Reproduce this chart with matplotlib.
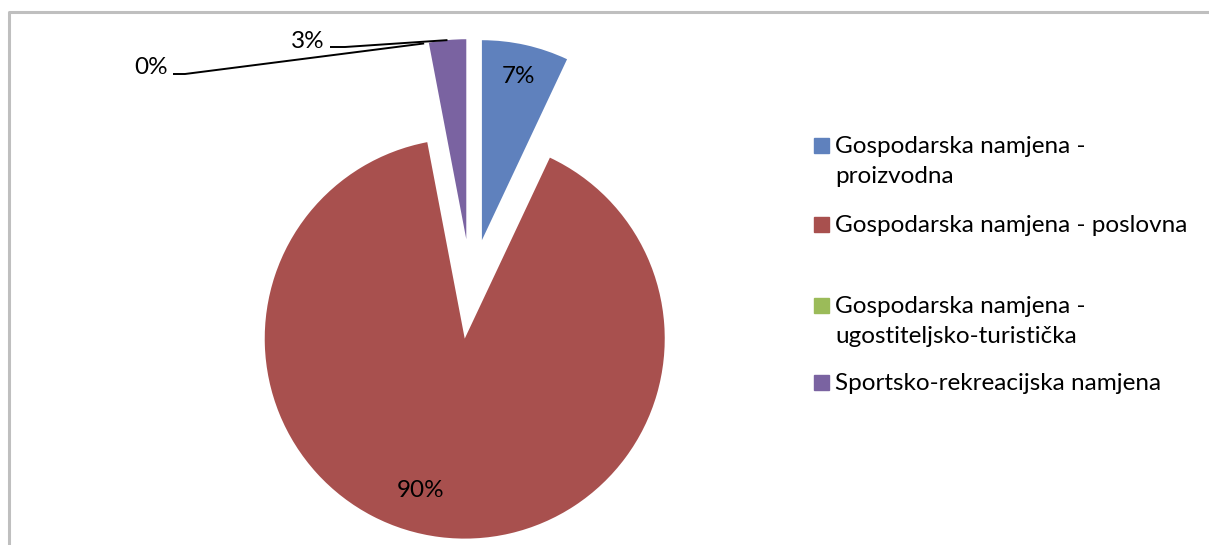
import numpy as np
import matplotlib
matplotlib.use('Agg')
import matplotlib.pyplot as plt
from matplotlib.patches import Rectangle

# data
categories = ['Gospodarska namjena -\nproizvodna',
              'Gospodarska namjena - poslovna',
              'Gospodarska namjena -\nugostiteljsko-turistička',
              'Sportsko-rekreacijska namjena']
values = [7, 90, 0, 3]
pct_labels = ['7%', '90%', '0%', '3%']
colors = ['#5F81BD', '#A8504E', '#9BBB59', '#7A63A1']

plt.rcParams['font.family'] = ['Lato', 'DejaVu Sans']
FS = 17.5

W, H = 1209, 545
fig = plt.figure(figsize=(W / 100, H / 100), dpi=100)
ax = fig.add_axes([0, 0, 1, 1])

cx, cy, r = 471, H - 289, 200
wedges, _ = ax.pie(values, colors=colors, startangle=90, counterclock=False,
                   explode=[0.25 * r] * len(values), radius=r, center=(cx, cy),
                   frame=True, wedgeprops=dict(linewidth=0))
ax.set_xlim(0, W)
ax.set_ylim(0, H)
ax.set_aspect('auto')
ax.axis('off')


def tip(w, frac=1.0, shift=0.0):
    # point on the wedge's mid-angle, measured from its exploded centre
    ang = np.deg2rad((w.theta1 + w.theta2) / 2 + shift)
    x0, y0 = w.center
    return x0 + frac * w.r * np.cos(ang), y0 + frac * w.r * np.sin(ang)


# inside labels
x, y = tip(wedges[0], 0.84)
ax.text(x, y, pct_labels[0], fontsize=FS, ha='center', va='center')
x, y = tip(wedges[1], 0.79, shift=-9)
ax.text(x, y, pct_labels[1], fontsize=FS, ha='center', va='center')

# outside labels with leader lines
for i, (lx, ly, kx) in [(3, (308, H - 41, 345)), (2, (151, H - 68, 185))]:
    ax.text(lx, ly, pct_labels[i], fontsize=FS, ha='center', va='center')
    ex, ey = tip(wedges[i], 1.0)
    ax.plot([lx + 22, kx, ex], [ly - 6, ly - 6, ey], color='black', lw=1.4,
            solid_capstyle='butt')

# legend (baseline of first line per entry, in px from top)
leg_base = [153, 232, 313, 390]
for w, lab, yb in zip(wedges, categories, leg_base):
    ax.add_patch(Rectangle((814, H - yb), 15, 15, color=w.get_facecolor()))
    for k, line in enumerate(lab.split('\n')):
        ax.text(835, H - yb - 30 * k, line, fontsize=FS, ha='left',
                va='baseline')

# chart border (top and left visible)
ax.plot([9, 9, W], [0, H - 12, H - 12], color='#BFBFBF', lw=2.2)

fig.savefig('out.png', dpi=100)
